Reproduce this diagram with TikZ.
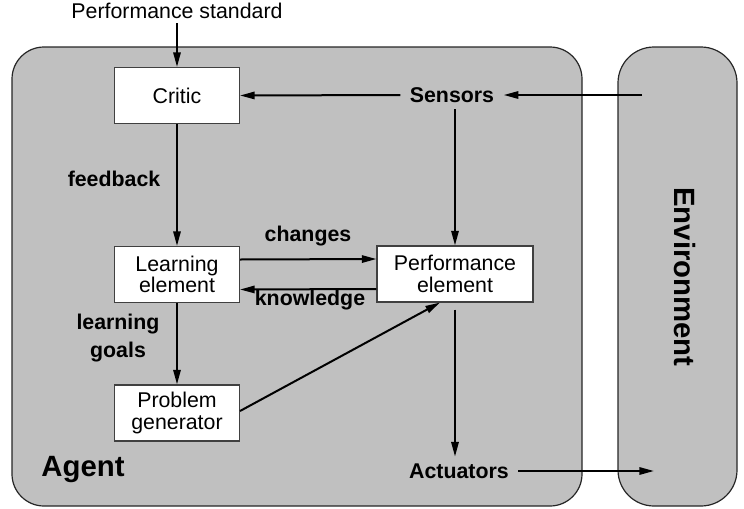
\documentclass[tikz,border=0pt]{standalone}
\usepackage{fontspec}
\setmainfont{Liberation Sans}
\usetikzlibrary{arrows.meta,calc}
\definecolor{panel}{HTML}{C0C0C0}
\tikzset{
  arr/.style={line width=1.5pt,-{Triangle[length=11pt,width=5.5pt]}},
  panelbox/.style={fill=panel,draw=black!85,line width=0.9pt},
  elembox/.style={draw=black!75,fill=white,line width=0.8pt,minimum height=42pt,inner sep=0pt,align=center,font=\fontsize{16}{16}\selectfont},
  lbl/.style={font=\bfseries\fontsize{16}{16}\selectfont,inner xsep=7pt,inner ysep=5pt,align=center},
  big/.style={font=\bfseries\fontsize{22}{22}\selectfont}
}
\begin{document}
\begin{tikzpicture}[x=0.75pt,y=-0.75pt]
\useasboundingbox (0,0) rectangle (744,508);
% panels
\draw[panelbox,rounded corners=24pt] (12,47) rectangle (582,506);
\draw[panelbox,rounded corners=27pt] (618,47) rectangle (737,506);
% element boxes
\node[elembox,minimum width=93.75pt] (Critic) at (177,95.5) {Critic};
\node[elembox,minimum width=93.75pt] (Learn) at (177,274.5) {Learning\\element};
\node[elembox,minimum width=93.75pt] (PG) at (177,413) {Problem\\generator};
\node[elembox,minimum width=117pt] (Perf) at (455,274) {Performance\\element};
% text labels
\node[font=\fontsize{16}{16}\selectfont,inner sep=3pt] (PS) at (177,11) {Performance standard};
\node[lbl] (Sensors) at (452,95) {Sensors};
\node[lbl] (Act) at (459,471) {Actuators};
\node[lbl] (fb) at (114,179) {feedback};
\node[lbl] (ch) at (308,236) {changes};
\node[lbl] (kn) at (310,300) {knowledge};
\node[lbl,font=\bfseries\fontsize{16}{21}\selectfont] (lg) at (118,338) {learning\\goals};
\node[big] (Agent) at (83,470) {Agent};
\node[big,rotate=-90] (Env) at (685,277) {Environment};
\coordinate (envin) at (642,95);
\coordinate (envout) at (654,471);
% connectors
\draw[arr] (PS.south) -- (Critic.north);
\draw[arr] (envin) -- (Sensors.east);
\draw[arr] (Sensors.west) -- (Critic.east);
\draw[arr] (Sensors.south -| Perf.north) -- (Perf.north);
\draw[arr] (Critic.south) -- (Learn.north);
\draw[arr] ($(Learn.east)+(0,-15)$) -- ($(Perf.west)+(0,-15)$);
\draw[arr] ($(Perf.west)+(0,15)$) -- ($(Learn.east)+(0,15)$);
\draw[arr] (Learn.south) -- (PG.north);
\draw[arr] ($(PG.east)+(0,-2)$) -- ($(Perf.south)+(-15,0)$);
\draw[arr] ($(Perf.south)+(0,7)$) -- (Act.north -| Perf.south);
\draw[arr] (Act.east) -- (envout);
\end{tikzpicture}
\end{document}
